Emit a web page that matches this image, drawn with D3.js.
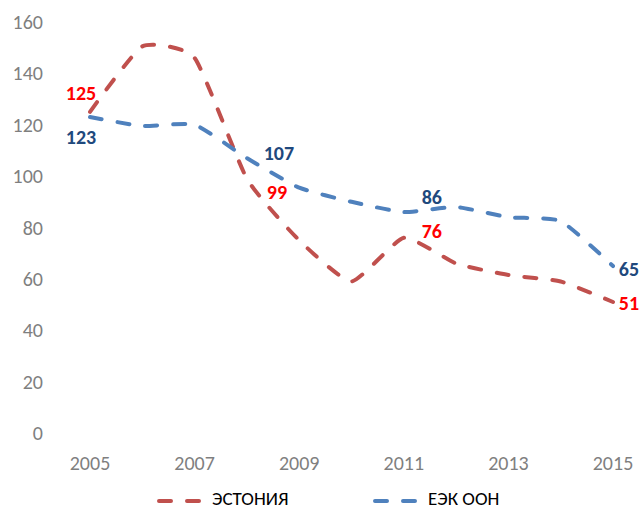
<!DOCTYPE html>
<html>
<head>
<meta charset="utf-8">
<script src="https://cdn.jsdelivr.net/npm/d3@7"></script>
<style>
  body { margin: 0; background: #fff; }
  svg { font-family: Carlito, Calibri, Lato, sans-serif; }
  .tick-label { fill: #7f7f7f; font-size: 20px; }
  .legend-text { fill: #000; font-size: 19px; }
  .val-label { font-size: 20px; font-weight: bold; }
</style>
</head>
<body>
<svg id="svg" width="639" height="511"></svg>
<script>
// values
var years = [2005, 2006, 2007, 2008, 2009, 2010, 2011, 2012, 2013, 2014, 2015];
var estonia = [125, 150.5, 146, 99, 75, 59, 76, 66, 61.5, 59, 51];
var unece = [123, 119.5, 120, 107, 95.5, 90, 86, 88, 84, 82.5, 65];
var seriesNames = ["ЭСТОНИЯ", "ЕЭК ООН"];
var yTicks = [0, 20, 40, 60, 80, 100, 120, 140, 160];
var xTicks = [2005, 2007, 2009, 2011, 2013, 2015];
// which points carry a value label
var estoniaLabelled = [0, 3, 6, 10];
var uneceLabelled = [0, 3, 6, 10];

var svg = d3.select("#svg");

var x = d3.scaleLinear().domain([2005, 2015]).range([90, 613]);
var y = d3.scaleLinear().domain([0, 160]).range([433, 22]);

var redLine = "#c0504d";
var blueLine = "#4f81bd";

// y axis labels
svg.append("g")
    .selectAll("text")
    .data(yTicks)
    .enter()
    .append("text")
    .attr("class", "tick-label")
    .attr("x", 43)
    .attr("y", function(d) { return y(d); })
    .attr("dy", "0.35em")
    .attr("text-anchor", "end")
    .text(function(d) { return d; });

// x axis labels
svg.append("g")
    .selectAll("text")
    .data(xTicks)
    .enter()
    .append("text")
    .attr("class", "tick-label")
    .attr("x", function(d) { return x(d); })
    .attr("y", 470)
    .attr("text-anchor", "middle")
    .text(function(d) { return d; });

var line = d3.line()
    .x(function(d, i) { return x(years[i]); })
    .y(function(d) { return y(d); })
    .curve(d3.curveCardinal.tension(0.5));

var drawSeries = function(values, color) {
    svg.append("path")
        .datum(values)
        .attr("d", line)
        .attr("fill", "none")
        .attr("stroke", color)
        .attr("stroke-width", 4)
        .attr("stroke-linecap", "round")
        .attr("stroke-dasharray", "12,16");
};

drawSeries(estonia, redLine);
drawSeries(unece, blueLine);

// value labels, placed around their points like in the original
var estOffsets = [[-9, -19], [30, 13], [28, -7], [16, 1]];
var unOffsets = [[-9, 20], [32, -5], [28, -15], [16, 3]];

var addLabels = function(values, idx, offsets, color) {
    svg.append("g")
        .selectAll("text")
        .data(idx)
        .enter()
        .append("text")
        .attr("class", "val-label")
        .attr("fill", color)
        .attr("x", function(d, i) { return x(years[d]) + offsets[i][0]; })
        .attr("y", function(d, i) { return y(values[d]) + offsets[i][1]; })
        .attr("dy", "0.35em")
        .attr("text-anchor", "middle")
        .text(function(d) { return Math.round(values[d]); });
};

addLabels(estonia, estoniaLabelled, estOffsets, "#ff0000");
addLabels(unece, uneceLabelled, unOffsets, "#1f497d");

// legend
var legend = svg.append("g");
var legendItems = [
    { name: seriesNames[0], color: redLine, x: 157 },
    { name: seriesNames[1], color: blueLine, x: 373 }
];
legendItems.forEach(function(item) {
    legend.append("line")
        .attr("x1", item.x + 2)
        .attr("x2", item.x + 44)
        .attr("y1", 501)
        .attr("y2", 501)
        .attr("stroke", item.color)
        .attr("stroke-width", 4)
        .attr("stroke-linecap", "round")
        .attr("stroke-dasharray", "12,16");
    legend.append("text")
        .attr("class", "legend-text")
        .attr("x", item.x + 55)
        .attr("y", 505)
        .text(item.name);
});
</script>
</body>
</html>
